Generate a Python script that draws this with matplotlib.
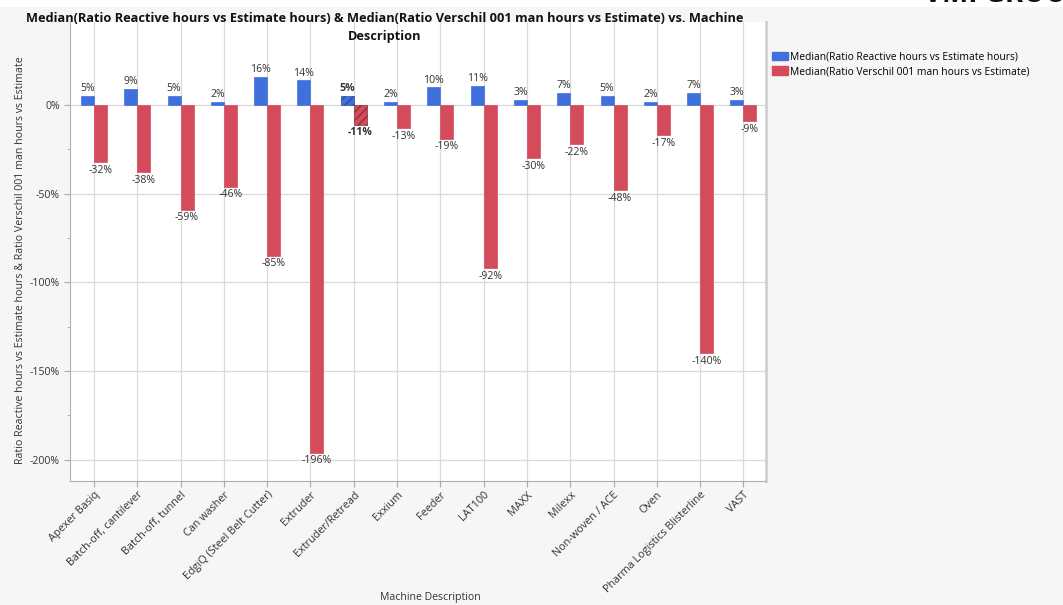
import matplotlib
matplotlib.use("Agg")
import matplotlib.pyplot as plt
import numpy as np
from matplotlib.patches import Patch

plt.rcParams['font.family'] = ['Open Sans', 'DejaVu Sans']

categories = ["Apexer Basiq", "Batch-off, cantilever", "Batch-off, tunnel", "Can washer",
              "EdgiQ (Steel Belt Cutter)", "Extruder", "Extruder/Retread", "Exxium",
              "Feeder", "LAT100", "MAXX", "Milexx", "Non-woven / ACE", "Oven",
              "Pharma Logistics Blisterline", "VAST"]
reactive = [5, 9, 5, 2, 16, 14, 5, 2, 10, 11, 3, 7, 5, 2, 7, 3]
verschil = [-32, -38, -59, -46, -85, -196, -11, -13, -19, -92, -30, -22, -48, -17, -140, -9]
yticks = [0, -50, -100, -150, -200]
selected = "Extruder/Retread"

series1 = "Median(Ratio Reactive hours vs Estimate hours)"
series2 = "Median(Ratio Verschil 001 man hours vs Estimate)"

blue = "#4070dc"
red = "#d44b5b"

fig = plt.figure(figsize=(10.63, 6.05), dpi=100)
fig.patch.set_facecolor("#f6f6f6")
# white strip at top
fig.patches.append(plt.Rectangle((0, 0.988), 1, 0.012, transform=fig.transFigure,
                                 facecolor="white", edgecolor="none", zorder=0))
fig.text(0.869, 0.9965, "VMI GROUP", fontsize=20, fontweight="bold", color="#111111",
         ha="left", va="baseline")

ax = fig.add_axes([0.066, 0.205, 0.655, 0.759])
ax.set_facecolor("white")

x = np.arange(len(categories))
w = 0.3
for i, (c, a, b) in enumerate(zip(categories, reactive, verschil)):
    sel = c == selected
    ax.bar(i - w / 2, a, width=w, color=blue, edgecolor=blue if not sel else "#2a4f9e",
           hatch="////" if sel else None, linewidth=0.5, zorder=3)
    ax.bar(i + w / 2, b, width=w, color=red, edgecolor=red if not sel else "#8e2f3a",
           hatch="////" if sel else None, linewidth=0.5, zorder=3)
    fw = "bold" if sel else "normal"
    ax.text(i - w / 2, a + 1, f"{a}%", ha="center", va="bottom", fontsize=7.6,
            color="#333333", fontweight=fw)
    ax.text(i + w / 2, b - 1.5, f"{b}%", ha="center", va="top", fontsize=7.6,
            color="#333333", fontweight=fw)

ax.set_xlim(-0.55, len(categories) - 0.47)
ax.set_ylim(-212, 47)
ax.set_xticks(x)
ax.set_xticklabels(categories, rotation=45, ha="right", rotation_mode="anchor",
                   fontsize=7.8, color="#333333")
ax.set_yticks(yticks)
ax.set_yticklabels([f"{v}%" for v in yticks], fontsize=7.6, color="#333333")
ax.set_yticks([-25, -75, -125, -175], minor=True)
ax.tick_params(axis="y", which="major", length=4, color="#aaaaaa")
ax.tick_params(axis="y", which="minor", length=2, color="#aaaaaa")
ax.tick_params(axis="x", length=4, color="#aaaaaa", pad=2)
ax.grid(True, which="major", color="#d9d9d9", linewidth=0.9, zorder=0)
ax.set_axisbelow(True)
for s in ["left", "bottom", "right"]:
    ax.spines[s].set_color("#b0b0b0")
ax.spines["right"].set_color("#d0d0d0")
ax.spines["right"].set_linewidth(2)
ax.spines["top"].set_visible(False)

ax.set_ylabel("Ratio Reactive hours vs Estimate hours & Ratio Verschil 001 man hours vs Estimate",
              fontsize=7.7, color="#333333")
ax.yaxis.set_label_coords(-0.064, 0.482)
fig.text(0.405, 0.013, "Machine Description", ha="center", va="center",
         fontsize=7.6, color="#333333")

fig.text(0.362, 0.955, "Median(Ratio Reactive hours vs Estimate hours) & Median(Ratio Verschil 001 man hours vs Estimate) vs. Machine\nDescription",
         ha="center", va="center", fontsize=9.2, fontweight="bold", color="#111111",
         linespacing=1.5)

handles = [Patch(facecolor=blue, edgecolor=blue), Patch(facecolor=red, edgecolor=red)]
fig.legend(handles, [series1, series2], loc="upper left", bbox_to_anchor=(0.723, 0.92),
           frameon=False, fontsize=7.4, handlelength=1.6, handleheight=0.9,
           handletextpad=0.2, labelspacing=0.35, borderaxespad=0, borderpad=0.3)

fig.savefig("out.png", dpi=100, facecolor=fig.get_facecolor())
